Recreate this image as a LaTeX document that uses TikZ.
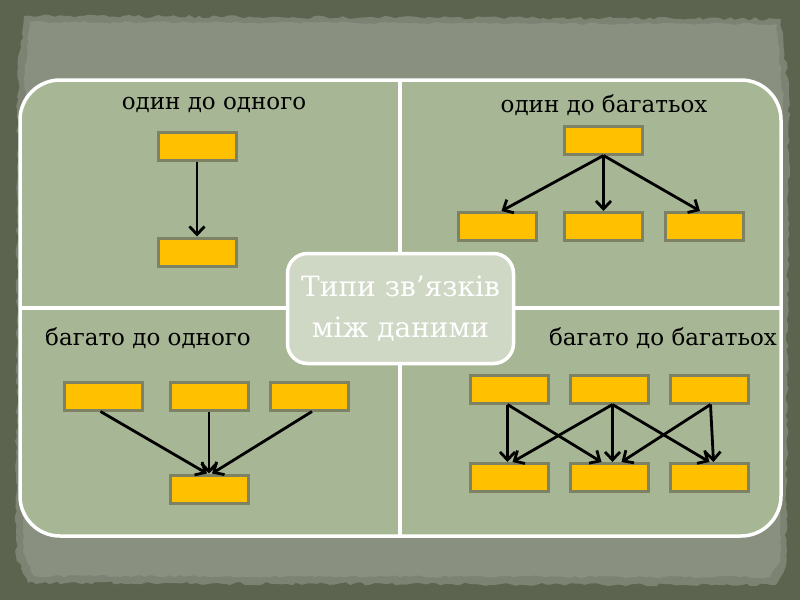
\documentclass[tikz,border=0pt]{standalone}
\usepackage{fontspec}
\setmainfont{DejaVu Serif}
\usetikzlibrary{arrows.meta,decorations.pathmorphing}
\definecolor{outerbg}{HTML}{5C6450}
\definecolor{paper}{HTML}{8A9080}
\definecolor{paperedge}{HTML}{7C8372}
\definecolor{panel}{HTML}{A7B694}
\definecolor{centerfill}{HTML}{CFD8C4}
\definecolor{gold}{HTML}{FFC000}
\definecolor{goldedge}{HTML}{7D8264}
\begin{document}
\begin{tikzpicture}[x=1pt,y=-1pt,
  box/.style={draw=goldedge, line width=3pt, fill=gold, minimum width=78pt, minimum height=28pt, inner sep=0pt},
  lbl/.style={font=\fontsize{23}{26}\selectfont, text=black, inner sep=0pt},
  arr/.style={line width=2.8pt, -{Straight Barb[length=8pt,width=15pt]}},
  divider/.style={draw=white, line width=3.5pt},
  hub/.style={draw=white, line width=3.5pt, fill=centerfill, rounded corners=20pt,
    minimum width=226pt, minimum height=110pt, align=center, text=white,
    font=\fontsize{28}{41}\selectfont, inner sep=0pt}
]
\pgfmathsetseed{7}
\useasboundingbox (0,0) rectangle (800,600);
\fill[outerbg] (0,0) rectangle (800,600);
% paper
\fill[paperedge, decorate, decoration={random steps,segment length=5pt,amplitude=1.6pt}]
  (24,16) -- (781,19) -- (789,95) -- (786,566) -- (776,585) -- (28,583) -- (16,556) -- (18,68) -- cycle;
\fill[paper, decorate, decoration={random steps,segment length=5pt,amplitude=1.2pt}]
  (30,22) -- (777,24) -- (783,98) -- (780,562) -- (770,577) -- (34,576) -- (23,552) -- (25,72) -- cycle;
% panel
\draw[white, line width=3.5pt, fill=panel, rounded corners=40pt] (20,80) rectangle (781,536);
\coordinate (vt) at (400,80);
\coordinate (vb) at (400,536);
\coordinate (hl) at (20,308);
\coordinate (hr) at (781,308);
\draw[divider] (vt) -- (vb);
\draw[divider] (hl) -- (hr);

% one to one
\node[lbl] (l1) at (214,105) {один до одного};
\node[box] (a1) at (197,146) {};
\node[box] (a2) at (197,252) {};
\draw[arr] (a1.south) -- (a2.north);

% one to many
\node[lbl] (l2) at (604,105) {один до багатьох};
\node[box] (b0) at (603.5,140) {};
\node[box] (b1) at (497.5,226.5) {};
\node[box] (b2) at (603.5,226.5) {};
\node[box] (b3) at (704,226.5) {};
\draw[arr] (b0.south) -- ([xshift=4pt]b1.north);
\draw[arr] (b0.south) -- (b2.north);
\draw[arr] (b0.south) -- ([xshift=-4pt]b3.north);

% many to one
\node[lbl] (l3) at (148,338) {багато до одного};
\node[box] (c1) at (103.5,396) {};
\node[box] (c2) at (209,396) {};
\node[box] (c3) at (309,396) {};
\node[box] (c0) at (209,489) {};
\draw[arr] ([xshift=-3pt]c1.south) -- ([xshift=-2pt]c0.north);
\draw[arr] (c2.south) -- (c0.north);
\draw[arr] ([xshift=3pt]c3.south) -- ([xshift=3pt]c0.north);

% many to many
\node[lbl] (l4) at (663,338) {багато до багатьох};
\node[box] (d1) at (509.5,389) {};
\node[box] (d2) at (609.5,389) {};
\node[box] (d3) at (709.5,389) {};
\node[box] (e1) at (509.5,477.5) {};
\node[box] (e2) at (609.5,477.5) {};
\node[box] (e3) at (709.5,477.5) {};
\draw[arr] ([xshift=-2pt]d1.south) -- ([xshift=-2pt]e1.north);
\draw[arr] ([xshift=-2pt]d1.south) -- ([xshift=-8pt]e2.north);
\draw[arr] ([xshift=3pt]d2.south) -- ([xshift=3pt]e1.north);
\draw[arr] ([xshift=3pt]d2.south) -- ([xshift=3pt]e2.north);
\draw[arr] ([xshift=3pt]d2.south) -- ([xshift=0pt]e3.north);
\draw[arr] ([xshift=1pt]d3.south) -- ([xshift=4pt]e3.north);
\draw[arr] ([xshift=1pt]d3.south) -- ([xshift=12pt]e2.north);

% hub
\node[hub] (hub) at (400.5,308.5) {Типи зв’язків\\між даними};
\end{tikzpicture}
\end{document}
